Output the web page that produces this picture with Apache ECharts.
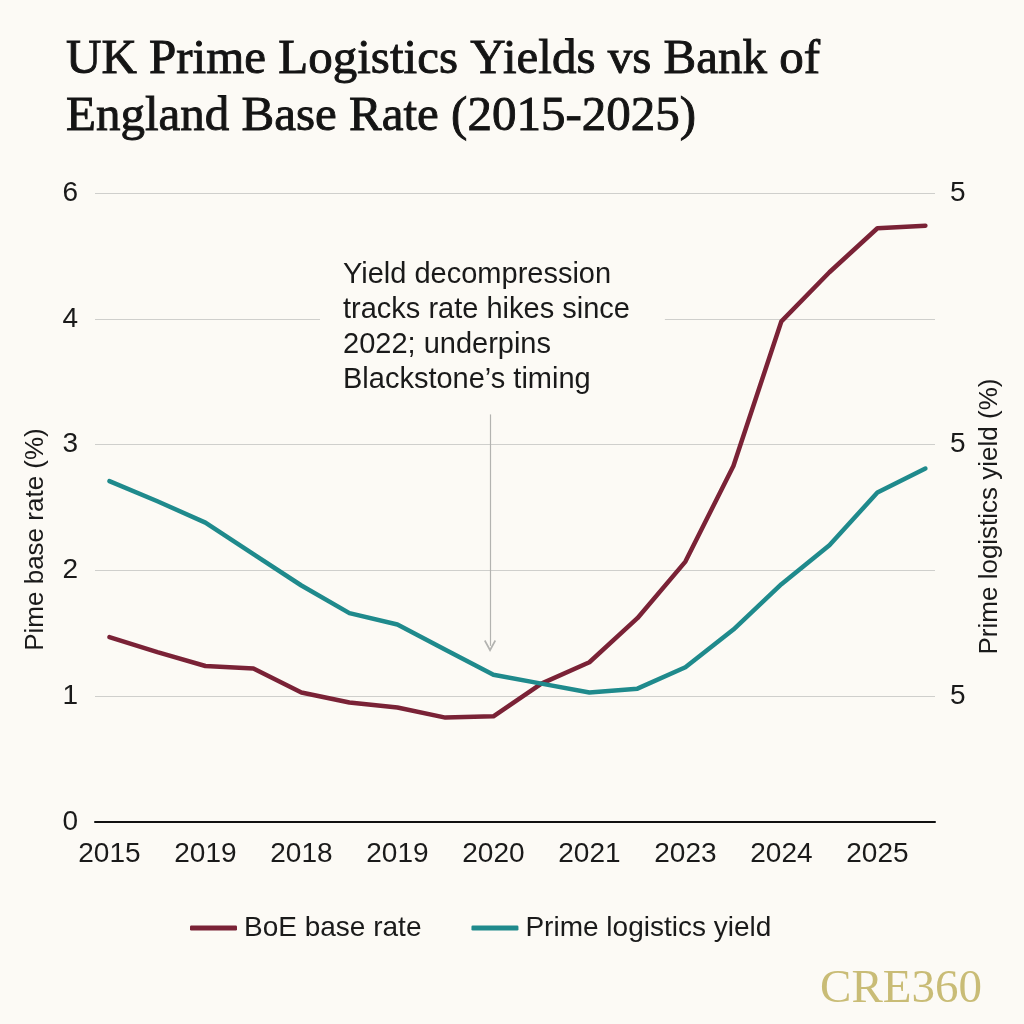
<!DOCTYPE html>
<html>
<head>
<meta charset="utf-8">
<script src="https://cdn.jsdelivr.net/npm/echarts@6/dist/echarts.min.js"></script>
<style>
html,body{margin:0;padding:0;background:#FCFAF5;}
#chart{width:1024px;height:1024px;}
</style>
</head>
<body>
<div id="chart"></div>
<script>
// Tick labels as printed on the chart
var xTickLabels = ['2015','2019','2018','2019','2020','2021','2023','2024','2025'];
var leftTickLabels = ['0','1','2','3','4','6'];
var rightTickLabels = ['', '5', '', '5', '', '5'];

var boeRate = [1.47, 1.35, 1.24, 1.22, 1.03, 0.95, 0.91, 0.83, 0.84, 1.10, 1.27, 1.62, 2.07, 2.83, 3.98, 4.37, 4.72, 4.74];
var primeYield = [2.71, 2.55, 2.38, 2.13, 1.88, 1.66, 1.57, 1.37, 1.17, 1.10, 1.03, 1.06, 1.23, 1.53, 1.89, 2.20, 2.62, 2.81];

var seriesNames = ['BoE base rate', 'Prime logistics yield'];
var titleText = 'UK Prime Logistics Yields vs Bank of\nEngland Base Rate (2015-2025)';
var annotationText = 'Yield decompression\ntracks rate hikes since\n2022; underpins\nBlackstone\u2019s timing';

function toPairs(arr){ return arr.map(function(v,i){ return [i, v]; }); }
var tickValues = xTickLabels.map(function(_, i){ return i * 2; });

var chart = echarts.init(document.getElementById('chart'));
var sans = '"Liberation Sans", Arial, sans-serif';
var serif = '"Liberation Serif", "DejaVu Serif", serif';

chart.setOption({
  backgroundColor: '#FCFAF5',
  animation: false,
  title: {
    text: titleText,
    left: 61, top: 27,
    textStyle: { fontFamily: serif, fontSize: 49, fontWeight: 'normal', color: '#141414', lineHeight: 57,
      textBorderColor: '#141414', textBorderWidth: 0.9 }
  },
  legend: {
    left: 185, top: 909,
    icon: 'roundRect',
    itemWidth: 47, itemHeight: 5, itemGap: 50,
    textStyle: { fontFamily: sans, fontSize: 28, color: '#1a1a1a', padding: [0,0,0,2] },
    data: seriesNames
  },
  grid: { left: 95, right: 89, top: 193, bottom: 202, containLabel: false },
  xAxis: {
    type: 'value', min: -0.3, max: 17.2,
    axisLine: { show: true, onZero: false, lineStyle: { color: '#111', width: 2 } },
    axisTick: { show: false },
    splitLine: { show: false },
    axisLabel: {
      customValues: tickValues,
      margin: 18,
      fontFamily: sans, fontSize: 28, color: '#1a1a1a',
      formatter: function(v){ return xTickLabels[Math.round(v/2)] || ''; }
    }
  },
  yAxis: [{
    type: 'value', min: 0, max: 5, interval: 1, position: 'left',
    name: 'Pime base rate (%)', nameLocation: 'middle', nameRotate: 90, nameGap: 46,
    nameTextStyle: { fontFamily: sans, fontSize: 26, color: '#1a1a1a', padding: [0, 64, 0, 0] },
    axisLine: { show: false }, axisTick: { show: false },
    splitLine: { show: true, lineStyle: { color: '#cfcfcc', width: 1 } },
    axisLabel: { margin: 17, fontFamily: sans, fontSize: 28, color: '#1a1a1a',
      formatter: function(v){ return leftTickLabels[Math.round(v)]; } }
  }, {
    type: 'value', min: 0, max: 5, interval: 1, position: 'right',
    name: 'Prime logistics yield (%)', nameLocation: 'middle', nameRotate: 90, nameGap: 40,
    nameTextStyle: { fontFamily: sans, fontSize: 26, color: '#1a1a1a', padding: [0, 18, 0, 0] },
    axisLine: { show: false }, axisTick: { show: false },
    splitLine: { show: false },
    axisLabel: { margin: 15, fontFamily: sans, fontSize: 28, color: '#1a1a1a',
      formatter: function(v){ return rightTickLabels[Math.round(v)]; } }
  }],
  series: [{
    name: seriesNames[0], type: 'line', yAxisIndex: 0,
    data: toPairs(boeRate), showSymbol: false, symbol: 'none',
    lineStyle: { color: '#7A2236', width: 4.5, cap: 'round', join: 'round' },
    itemStyle: { color: '#7A2236' },
    markLine: {
      silent: true,
      symbol: ['none', 'path://M0,9 L5,0 L10,9 L8.8,10 L5,3 L1.2,10 Z'],
      symbolSize: 12,
      label: { show: false },
      lineStyle: { color: '#b3b3b0', width: 1.2, type: 'solid' },
      data: [[{ coord: [7.93, 3.24] }, { coord: [7.93, 1.40] }]]
    }
  }, {
    name: seriesNames[1], type: 'line', yAxisIndex: 1,
    data: toPairs(primeYield), showSymbol: false, symbol: 'none',
    lineStyle: { color: '#1F8A8C', width: 4.5, cap: 'round', join: 'round' },
    itemStyle: { color: '#1F8A8C' }
  }],
  graphic: [{
    type: 'text', left: 320, top: 249, z: 100,
    style: {
      text: annotationText,
      fontFamily: sans, fontSize: 29, lineHeight: 35, fill: '#1a1a1a',
      backgroundColor: '#FCFAF5', padding: [8, 35, 8, 23]
    }
  }, {
    type: 'text', right: 42, top: 966, z: 100,
    style: { text: 'CRE360', fontFamily: serif, fontSize: 47, fill: '#C9BC76' }
  }]
});
</script>
</body>
</html>
